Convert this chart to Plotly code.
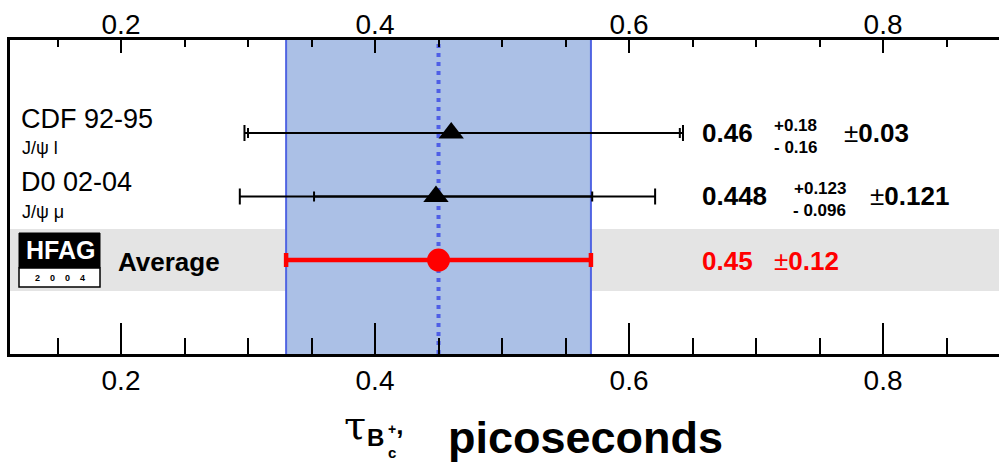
import math
import plotly.graph_objects as go

# ---------------- data ----------------
labels = ["CDF 92-95", "D0 02-04"]
sublabels = ["J/ψ l", "J/ψ μ"]
values = [0.46, 0.448]
stat_plus = [0.18, 0.123]
stat_minus = [0.16, 0.096]
syst = [0.03, 0.121]
rows = [3, 2]
avg_label = "Average"
avg_value = 0.45
avg_error = 0.12
avg_row = 1
tick_vals = [0.2, 0.4, 0.6, 0.8]
x_title = "picoseconds"

# ---------------- geometry helpers (pixel -> paper) ----------------
W, H = 999, 465
L, R, T, B = 10, 0, 40, 111
PW, PH = W - L - R, H - T - B


def X(px):
    return (px - L) / PW


def Y(py):
    return (H - B - py) / PH


FONT = "Liberation Sans, Arial, Helvetica, sans-serif"
XR = [0.1126, 0.8913]
YR = [-0.48, 4.465]

fig = go.Figure()

tot_plus = [math.sqrt(a * a + c * c) for a, c in zip(stat_plus, syst)]
tot_minus = [math.sqrt(a * a + c * c) for a, c in zip(stat_minus, syst)]

# total error bars
fig.add_trace(go.Scatter(
    x=values, y=rows, mode="markers", marker=dict(size=1, color="rgba(0,0,0,0)"),
    error_x=dict(type="data", symmetric=False, array=tot_plus, arrayminus=tot_minus,
                 color="black", thickness=2, width=8),
    showlegend=False, hoverinfo="skip"))
# statistical error bars
fig.add_trace(go.Scatter(
    x=values, y=rows, mode="markers", marker=dict(size=1, color="rgba(0,0,0,0)"),
    error_x=dict(type="data", symmetric=False, array=stat_plus, arrayminus=stat_minus,
                 color="black", thickness=2, width=5),
    showlegend=False, hoverinfo="skip"))
# measurement markers
fig.add_trace(go.Scatter(
    x=values, y=rows, mode="markers",
    marker=dict(symbol="triangle-up", size=22, color="black"),
    showlegend=False))
# average
fig.add_trace(go.Scatter(
    x=[avg_value], y=[avg_row], mode="markers",
    marker=dict(symbol="circle", size=23, color="#ff0000"),
    error_x=dict(type="data", array=[avg_error], color="#ff0000", thickness=4.5, width=7),
    showlegend=False))
# dummy trace for top axis
fig.add_trace(go.Scatter(x=[avg_value], y=[avg_row], xaxis="x2", mode="markers",
                         marker=dict(size=1, color="rgba(0,0,0,0)"), showlegend=False,
                         hoverinfo="skip"))

shapes = []
# grey average row band
shapes.append(dict(type="rect", xref="paper", yref="y", x0=0, x1=1,
                   y0=avg_row - 0.488, y1=avg_row + 0.488,
                   fillcolor="#e4e4e4", line=dict(width=0), layer="below"))
# blue average band
shapes.append(dict(type="rect", xref="x", yref="paper", x0=avg_value - avg_error,
                   x1=avg_value + avg_error, y0=0, y1=1,
                   fillcolor="#abc0e6", line=dict(width=0), layer="below"))
for xv in (avg_value - avg_error, avg_value + avg_error):
    shapes.append(dict(type="line", xref="x", yref="paper", x0=xv, x1=xv, y0=0, y1=1,
                       line=dict(color="#5064e2", width=2), layer="below"))
shapes.append(dict(type="line", xref="x", yref="paper", x0=avg_value, x1=avg_value,
                   y0=0, y1=1, line=dict(color="#4e5ee6", width=4, dash="4px,5px"),
                   layer="below"))
# HFAG logo
shapes.append(dict(type="rect", xref="paper", yref="paper", x0=X(19), x1=X(100),
                   y0=Y(268), y1=Y(233), fillcolor="black", line=dict(color="black", width=1)))
shapes.append(dict(type="rect", xref="paper", yref="paper", x0=X(19), x1=X(100),
                   y0=Y(287), y1=Y(268), fillcolor="white", line=dict(color="black", width=1.5)))

ann = []


def text(t, px, py, size, bold=False, color="black", xanchor="left", family=FONT):
    ann.append(dict(text=t, xref="paper", yref="paper", x=X(px), y=Y(py),
                    xanchor=xanchor, yanchor="middle", showarrow=False,
                    font=dict(family=family, size=size, color=color,
                              weight="bold" if bold else "normal")))


PM = "<span style='font-weight:normal'>±</span>"

lab_py = [119, 182]
sub_py = [148, 212]
for lab, sub, lp, sp in zip(labels, sublabels, lab_py, sub_py):
    text(lab, 19, lp, 27)
    text(sub, 20, sp, 18)

text("HFAG", 60, 250, 25, bold=True, color="white", xanchor="center")
text("2&nbsp;&nbsp;&nbsp;&nbsp;0&nbsp;&nbsp;&nbsp;&nbsp;0&nbsp;&nbsp;&nbsp;&nbsp;4", 60, 278, 9,
     bold=True, xanchor="center")
text(avg_label, 116, 262, 26, bold=True)

row_py = [133, 196]
stat_right_px = [819, 848]
syst_px = [842, 868]
for v, sp, sm, sy, py, srx, syx in zip(values, stat_plus, stat_minus, syst, row_py,
                                       stat_right_px, syst_px):
    text(f"{v}", 700, py, 26, bold=True)
    text(f"+{sp}", srx, py - 8, 17, bold=True, xanchor="right")
    text(f"- {sm}", srx, py + 14, 17, bold=True, xanchor="right")
    text(f"{PM}{sy}", syx, py, 26, bold=True)

text(f"{avg_value}", 700, 261, 26, bold=True, color="#ff0000")
text(f"{PM}{avg_error}", 772, 261, 26, bold=True, color="#ff0000")

# x-axis title pieces
text("τ", 342, 425, 40, family="DejaVu Serif, serif")
text("B", 386, 437, 24, bold=True, xanchor="right")
text("+<span style='font-size:26px'>,</span>", 386, 425, 14, bold=True)
text("c", 386, 452, 15, bold=True)
text(x_title, 446, 437, 45, bold=True)

top_axis = dict(range=XR, overlaying="x", side="top", tickvals=tick_vals,
                ticktext=[f"{t}" for t in tick_vals],
                ticks="inside", ticklen=13, tickwidth=2, tickcolor="black",
                minor=dict(dtick=0.05, tick0=0, ticks="inside", ticklen=7, tickwidth=2,
                           tickcolor="black", showgrid=False),
                showline=True, linecolor="black", linewidth=2.5, showgrid=False,
                zeroline=False, tickfont=dict(family=FONT, size=28, color="black"))

fig.update_layout(
    width=W, height=H, margin=dict(l=L, r=R, t=T, b=B, pad=0),
    paper_bgcolor="white", plot_bgcolor="white",
    shapes=shapes, annotations=ann,
    xaxis=dict(range=XR, tickvals=tick_vals, ticktext=[f"{t}" for t in tick_vals],
               ticks="inside", ticklen=31, tickwidth=2, tickcolor="black",
               minor=dict(dtick=0.05, tick0=0, ticks="inside", ticklen=16, tickwidth=2,
                          tickcolor="black", showgrid=False),
               showline=True, linecolor="black", linewidth=2.5, showgrid=False,
               zeroline=False, tickfont=dict(family=FONT, size=28, color="black"),
               ticklabelstandoff=0),
    xaxis2=top_axis,
    yaxis=dict(range=YR, showline=True, linecolor="black", linewidth=2.5,
               showticklabels=False, ticks="", showgrid=False, zeroline=False),
)
try:
    fig.update_layout(xaxis2=dict(ticklabelstandoff=-8))
except Exception:
    pass

fig.write_html("out.html")
